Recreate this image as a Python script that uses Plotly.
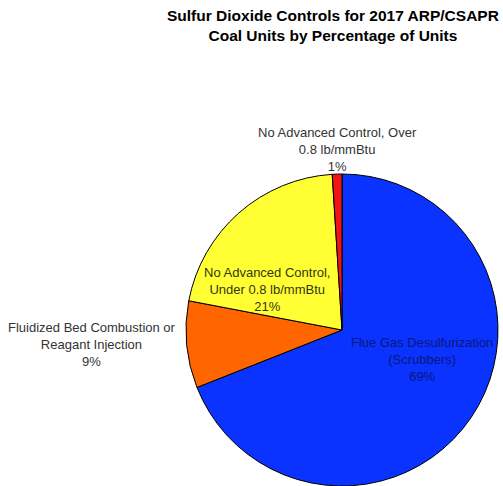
import plotly.graph_objects as go

categories = [
    "Flue Gas Desulfurization<br>(Scrubbers)",
    "Fluidized Bed Combustion or<br>Reagant Injection",
    "No Advanced Control,<br>Under 0.8 lb/mmBtu",
    "No Advanced Control, Over<br>0.8 lb/mmBtu",
]
percentages = [69, 9, 21, 1]
colors = ["#0A33FF", "#FF6600", "#FFFF33", "#F01414"]
text_colors = ["#0A187A", "#333333", "#36360E", "#333333"]
title_lines = ["Sulfur Dioxide Controls for 2017 ARP/CSAPR",
               "Coal Units by Percentage of Units"]

W, H = 503, 486

fig = go.Figure(go.Pie(
    labels=categories,
    values=percentages,
    sort=False,
    direction="clockwise",
    rotation=0,
    marker=dict(colors=colors, line=dict(color="#000000", width=1)),
    textinfo="none",
    hoverinfo="label+percent",
    showlegend=False,
    domain=dict(x=[185 / W, 499 / W], y=[0, 312 / H]),
))

# label anchor points (pixels from top-left) for each slice
label_pos = [(422, 359), (92, 344), (267, 289), (337, 149)]
annotations = []
for cat, pct, col, (px, py) in zip(categories, percentages, text_colors, label_pos):
    annotations.append(dict(
        x=px / W, y=1 - py / H, xref="paper", yref="paper",
        text=f"{cat}<br>{pct}%", showarrow=False,
        xanchor="center", yanchor="middle", align="center",
        font=dict(family="Liberation Sans, Arial, sans-serif", size=13, color=col),
    ))

annotations.append(dict(
    x=333 / W, y=1 - 26 / H, xref="paper", yref="paper",
    text="<b>" + "<br>".join(title_lines) + "</b>", showarrow=False,
    xanchor="center", yanchor="middle", align="center",
    font=dict(family="Liberation Sans, Arial, sans-serif", size=15.5, color="#000000"),
))

fig.update_layout(
    width=W, height=H,
    margin=dict(l=0, r=0, t=0, b=0),
    paper_bgcolor="#FFFFFF",
    plot_bgcolor="#FFFFFF",
    annotations=annotations,
)

fig.write_html("out.html",
               config={"displayModeBar": False},
               post_script="document.body.style.margin='0';document.body.style.overflow='hidden';")
